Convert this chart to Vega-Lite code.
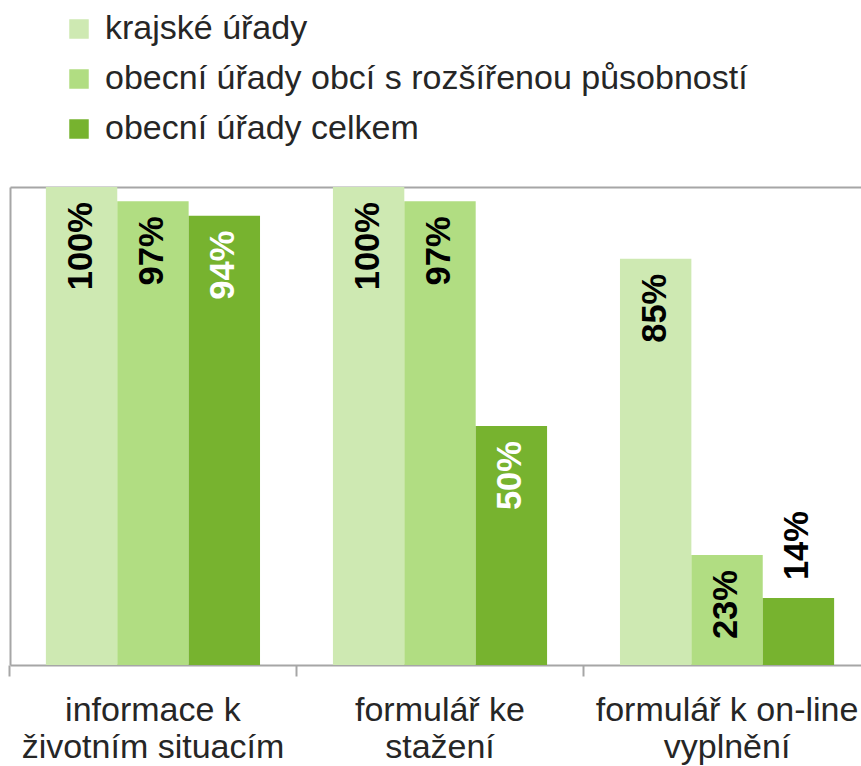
{
  "$schema": "https://vega.github.io/schema/vega-lite/v6.json",
  "width": 851,
  "height": 478,
  "autosize": "none",
  "padding": {"left": 10, "top": 187, "right": 0, "bottom": 101},
  "background": "white",
  "config": {
    "view": {"stroke": null},
    "font": "Liberation Sans",
    "legend": {
      "orient": "none",
      "legendX": 52,
      "legendY": -175,
      "direction": "vertical",
      "symbolType": "square",
      "symbolSize": 380,
      "symbolStrokeWidth": 0,
      "labelFontSize": 34,
      "labelFont": "Liberation Sans",
      "labelColor": "#262626",
      "labelOffset": 9,
      "rowPadding": 16,
      "padding": 0,
      "labelLimit": 0
    }
  },
  "data": {
    "values": [
      {"category": "informace k životním situacím", "series": "krajské úřady", "value": 1.00},
      {"category": "informace k životním situacím", "series": "obecní úřady obcí s rozšířenou působností", "value": 0.97},
      {"category": "informace k životním situacím", "series": "obecní úřady celkem", "value": 0.94},
      {"category": "formulář ke stažení", "series": "krajské úřady", "value": 1.00},
      {"category": "formulář ke stažení", "series": "obecní úřady obcí s rozšířenou působností", "value": 0.97},
      {"category": "formulář ke stažení", "series": "obecní úřady celkem", "value": 0.50},
      {"category": "formulář k on-line vyplnění", "series": "krajské úřady", "value": 0.85},
      {"category": "formulář k on-line vyplnění", "series": "obecní úřady obcí s rozšířenou působností", "value": 0.23},
      {"category": "formulář k on-line vyplnění", "series": "obecní úřady celkem", "value": 0.14}
    ]
  },
  "layer": [
    {
      "mark": {"type": "bar"},
      "encoding": {
        "x": {
          "field": "category", "type": "nominal",
          "sort": ["informace k životním situacím", "formulář ke stažení", "formulář k on-line vyplnění"],
          "scale": {"range": [0, 860], "paddingInner": 0.254, "paddingOuter": 0.125},
          "axis": {
            "orient": "bottom", "title": null,
            "domainColor": "#a6a6a6", "domainWidth": 2,
            "ticks": false, "tickSize": 0,
            "labelFontSize": 34, "labelColor": "#262626", "labelPadding": 28,
            "labelLineHeight": 37, "labelAngle": 0, "labelOverlap": false, "labelBound": false, "labelLimit": 0,
            "labelExpr": "datum.label == 'informace k životním situacím' ? ['informace k', 'životním situacím'] : datum.label == 'formulář ke stažení' ? ['formulář ke', 'stažení'] : ['formulář k on-line', 'vyplnění']"
          }
        },
        "xOffset": {
          "field": "series", "type": "nominal",
          "sort": ["krajské úřady", "obecní úřady obcí s rozšířenou působností", "obecní úřady celkem"],
          "scale": {"paddingInner": 0, "paddingOuter": 0}
        },
        "y": {
          "field": "value", "type": "quantitative",
          "scale": {"domain": [0, 1], "nice": false},
          "axis": {"title": null, "labels": false, "ticks": false, "grid": false, "domainColor": "#a6a6a6", "domainWidth": 2}
        },
        "color": {
          "field": "series", "type": "nominal",
          "scale": {
            "domain": ["krajské úřady", "obecní úřady obcí s rozšířenou působností", "obecní úřady celkem"],
            "range": ["#cee9b2", "#b1dd82", "#77b32f"]
          },
          "legend": {"title": null}
        }
      }
    },
    {
      "transform": [{"filter": "datum.value >= 0.2"}],
      "mark": {"type": "text", "angle": 270, "align": "right", "baseline": "middle", "dx": -15, "fontSize": 34.5, "fontWeight": "bold", "font": "Liberation Sans"},
      "encoding": {
        "x": {
          "field": "category", "type": "nominal",
          "sort": ["informace k životním situacím", "formulář ke stažení", "formulář k on-line vyplnění"],
          "axis": {"orient": "top", "title": null, "labels": false, "ticks": false, "grid": false, "domainColor": "#a6a6a6", "domainWidth": 2}
        },
        "xOffset": {
          "field": "series", "type": "nominal",
          "sort": ["krajské úřady", "obecní úřady obcí s rozšířenou působností", "obecní úřady celkem"]
        },
        "y": {"field": "value", "type": "quantitative"},
        "text": {"field": "value", "type": "quantitative", "format": ".0%"},
        "color": {"condition": {"test": "datum.series == 'obecní úřady celkem'", "value": "white"}, "value": "black"}
      }
    },
    {
      "transform": [{"filter": "datum.value < 0.2"}],
      "mark": {"type": "text", "angle": 270, "align": "left", "baseline": "middle", "dx": 18, "fontSize": 34.5, "fontWeight": "bold", "font": "Liberation Sans", "color": "black"},
      "encoding": {
        "x": {
          "field": "category", "type": "nominal",
          "sort": ["informace k životním situacím", "formulář ke stažení", "formulář k on-line vyplnění"],
          "axis": {
            "orient": "bottom", "title": null, "labels": false, "domain": false, "grid": false,
            "ticks": true, "tickColor": "#a6a6a6", "tickWidth": 2, "tickSize": 11,
            "bandPosition": -0.17
          }
        },
        "xOffset": {
          "field": "series", "type": "nominal",
          "sort": ["krajské úřady", "obecní úřady obcí s rozšířenou působností", "obecní úřady celkem"]
        },
        "y": {"field": "value", "type": "quantitative"},
        "text": {"field": "value", "type": "quantitative", "format": ".0%"}
      }
    }
  ],
  "resolve": {"axis": {"x": "independent"}}
}
